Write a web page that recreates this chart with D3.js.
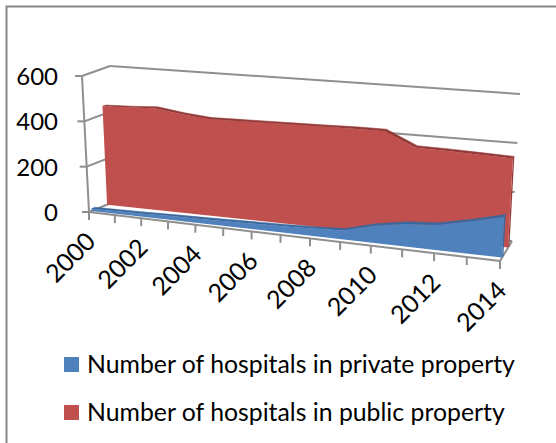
<!DOCTYPE html>
<html><head><meta charset="utf-8">
<script src="https://cdnjs.cloudflare.com/ajax/libs/d3/7.8.5/d3.min.js"></script>
<style>html,body{margin:0;padding:0;background:#fff}svg{display:block}text{font-family:Lato,"Open Sans",sans-serif;fill:#000}</style>
</head><body><svg id="c" width="556" height="443"></svg>
<script>
const years = d3.range(2000, 2015);
const tickLabels = [2000, 2002, 2004, 2006, 2008, 2010, 2012, 2014];
const valueTicks = [0, 200, 400, 600];
const privateValues = [10, 12, 14, 17, 19, 22, 25, 28, 32, 38, 72, 94, 104, 132, 165];
const publicValues = [436, 440, 447, 430, 419, 421, 423, 425, 427, 430, 430, 372, 370, 366, 362];
const legendLabels = ["Number of hospitals in private property", "Number of hospitals in public property"];
const colors = {priv: "#4f81bd", privDark: "#3b679c", pub: "#c0504d", pubDark: "#943b39"};
const axisColor = "#8f8f8f";

const svg = d3.select("#c");
const K = 1.146;
const tScale = d3.scaleLinear().domain([2000, 2014]).range([0, 1]);
const persp = y => { const t = tScale(y); return t / (t + K * (1 - t)); };
const vScale = d3.scaleLinear().domain([0, 600]).range([0, 1]);
const FL0 = [89, 212], FL1 = [82, 76], BL0 = [116, 201], BL1 = [110, 66];
const FR0 = [500, 261], FR1 = [508, 113], BR0 = [512, 241], BR1 = [520, 94];
const lerp = (a, b, t) => [a[0] + (b[0] - a[0]) * t, a[1] + (b[1] - a[1]) * t];
function pt(year, value, d) {
  const f = persp(year), v = vScale(value);
  const bottom = lerp(lerp(FL0, BL0, d), lerp(FR0, BR0, d), f);
  const top = lerp(lerp(FL1, BL1, d), lerp(FR1, BR1, d), f);
  return lerp(bottom, top, v);
}
const poly = pts => "M" + pts.map(p => p[0].toFixed(2) + "," + p[1].toFixed(2)).join("L") + "Z";
const line = (a, b, w) => svg.append("line").attr("x1", a[0]).attr("y1", a[1]).attr("x2", b[0]).attr("y2", b[1])
  .attr("stroke", axisColor).attr("stroke-width", w || 2);

svg.append("path").attr("d", "M6.5,443V6.5H556").attr("fill", "none").attr("stroke", "#868686").attr("stroke-width", 2);

valueTicks.forEach(v => {
  const fl = pt(2000, v, 0), bl = pt(2000, v, 1), br = pt(2014, v, 1);
  line([fl[0] - 7, fl[1]], fl);
  line(fl, bl);
  line(bl, br);
  svg.append("text").attr("x", 58).attr("y", fl[1] + 9).attr("text-anchor", "end")
    .attr("font-size", 24).text(v);
});
line(pt(2000, 0, 0), pt(2000, 600, 0));
line(pt(2014, 0, 0), pt(2014, 0, 1));

line(pt(2000, 0, 0), pt(2014, 0, 0));
years.forEach(y => { const p = pt(y, 0, 0); line(p, [p[0], p[1] + 8]); });
tickLabels.forEach(y => {
  const p = pt(y, 0, 0);
  svg.append("text").attr("transform", `translate(${p[0] + 8},${p[1] + 31}) rotate(-45)`)
    .attr("text-anchor", "end").attr("font-size", 25).text(y);
});

function drawArea(vals, d0, d1, dd, fill, dark) {
  const depth = y => d0 + (d1 - d0) * persp(y);
  const top = years.map((y, i) => pt(y, vals[i], depth(y)));
  const topB = years.map((y, i) => pt(y, vals[i], depth(y) + dd));
  const last = years.length - 1;
  svg.append("path").attr("d", poly(top.concat(topB.slice().reverse()))).attr("fill", dark).attr("stroke", dark).attr("stroke-width", .5);
  svg.append("path").attr("d", poly([top[last], topB[last], pt(2014, 0, d1 + dd), pt(2014, 0, d1)])).attr("fill", dark);
  svg.append("path").attr("d", poly([pt(2000, 0, d0)].concat(top, [pt(2014, 0, d1)]))).attr("fill", fill);
}
drawArea(publicValues, 0.67, 0.67, 0.12, colors.pub, colors.pubDark);
drawArea(privateValues, 0.1, 0.17, 0.12, colors.priv, colors.privDark);

[[colors.priv, 357, 373], [colors.pub, 405, 421]].forEach((l, i) => {
  svg.append("rect").attr("x", 64).attr("y", l[1]).attr("width", 15).attr("height", 15).attr("fill", l[0]);
  svg.append("text").attr("x", 87).attr("y", l[2]).attr("font-size", 24.8).text(legendLabels[i]);
});
</script></body></html>
